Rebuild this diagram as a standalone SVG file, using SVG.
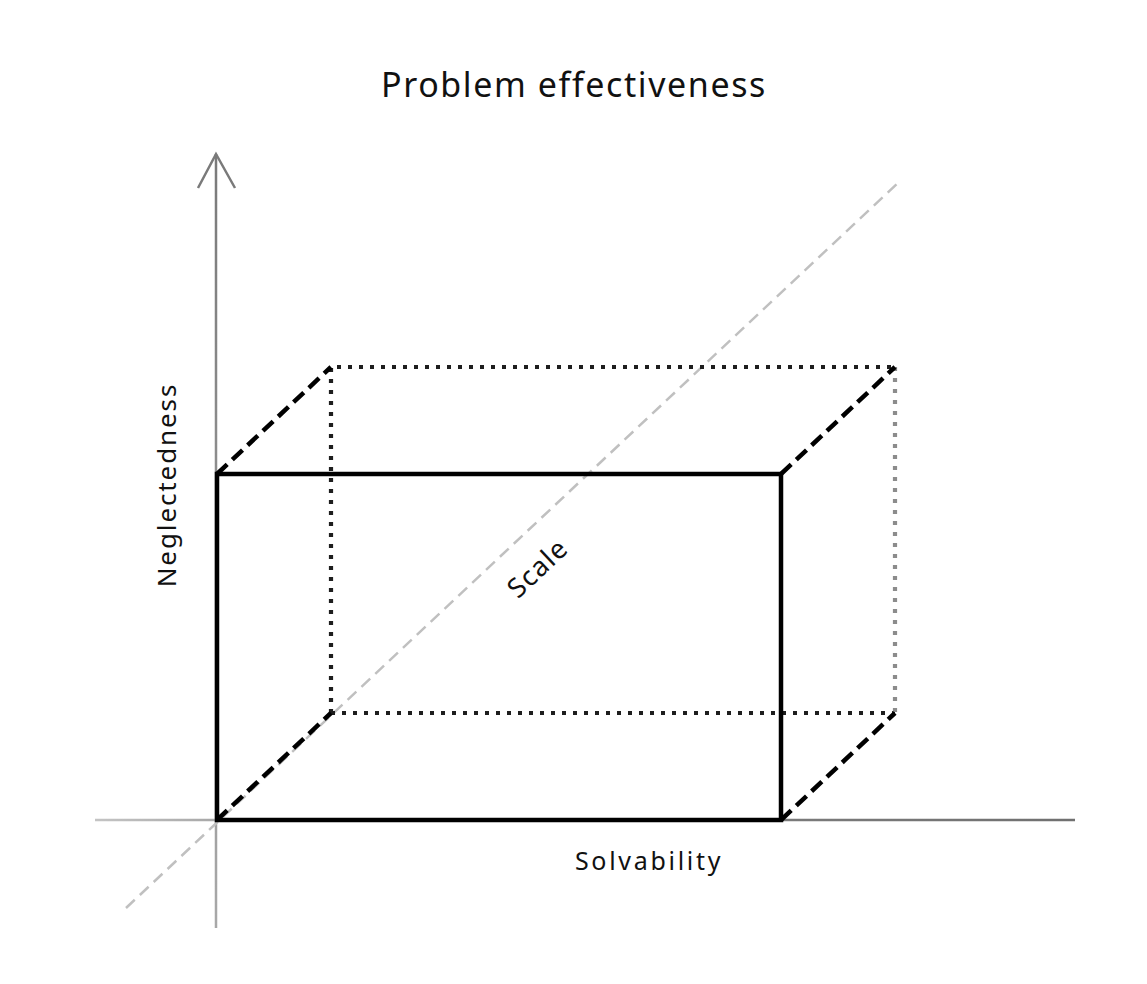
<svg xmlns="http://www.w3.org/2000/svg" width="1147" height="984" viewBox="0 0 1147 984">
<defs>
<linearGradient id="gx" gradientUnits="userSpaceOnUse" x1="95" y1="0" x2="1075" y2="0">
<stop offset="0" stop-color="#c4c4c4"/><stop offset="0.25" stop-color="#8a8a8a"/><stop offset="1" stop-color="#707070"/>
</linearGradient>
<linearGradient id="gy" gradientUnits="userSpaceOnUse" x1="0" y1="928" x2="0" y2="153">
<stop offset="0" stop-color="#a8a8a8"/><stop offset="1" stop-color="#7a7a7a"/>
</linearGradient>
<style>
.txt{font-family:"Noto Sans","Open Sans","Liberation Sans",sans-serif;fill:#111}
.solid{fill:none;stroke:#000;stroke-width:4.5;stroke-linejoin:miter}
.dash{fill:none;stroke:#000;stroke-width:4.5;stroke-dasharray:14 7}
.dot{fill:none;stroke:#1e1e1e;stroke-width:4.2;stroke-dasharray:4 7}
.dotg{fill:none;stroke:#8c8c8c;stroke-width:4.2;stroke-dasharray:4 7}
.diag{fill:none;stroke:#c0c0c0;stroke-width:2.5;stroke-dasharray:12 7}
</style>
</defs>
<rect width="1147" height="984" fill="#fff"/>
<text class="txt" x="574" y="97" font-size="34" letter-spacing="1.6" text-anchor="middle">Problem effectiveness</text>
<g id="axes">
<line x1="95" y1="820" x2="1075" y2="820" stroke="url(#gx)" stroke-width="2.5"/>
<line x1="216" y1="928" x2="216" y2="154" stroke="url(#gy)" stroke-width="2.5"/>
<polyline points="198,188 216,154 235,188" fill="none" stroke="#7a7a7a" stroke-width="2.5"/>
<line class="diag" x1="126" y1="908" x2="900" y2="181"/>
</g>
<g id="back-box">
<polyline class="dot" points="331,713 331,367 895,367"/>
<line class="dot" x1="331" y1="713" x2="895" y2="713"/>
<line class="dotg" x1="895" y1="367" x2="895" y2="713"/>
</g>
<g id="connectors">
<line class="dash" x1="217" y1="474" x2="331" y2="367"/>
<line class="dash" x1="781" y1="474" x2="895" y2="367"/>
<line class="dash" x1="217" y1="820" x2="331" y2="713"/>
<line class="dash" x1="781" y1="820" x2="895" y2="713"/>
</g>
<g id="front-box">
<rect class="solid" x="217" y="474" width="564" height="346"/>
</g>
<text class="txt" font-size="26" letter-spacing="1.9" text-anchor="middle" transform="translate(176,485) rotate(-90)">Neglectedness</text>
<text class="txt" font-size="27" letter-spacing="1.3" text-anchor="middle" transform="translate(544,575) rotate(-43.2)">Scale</text>
<text class="txt" x="649" y="870" font-size="25" letter-spacing="2.7" text-anchor="middle">Solvability</text>
</svg>
